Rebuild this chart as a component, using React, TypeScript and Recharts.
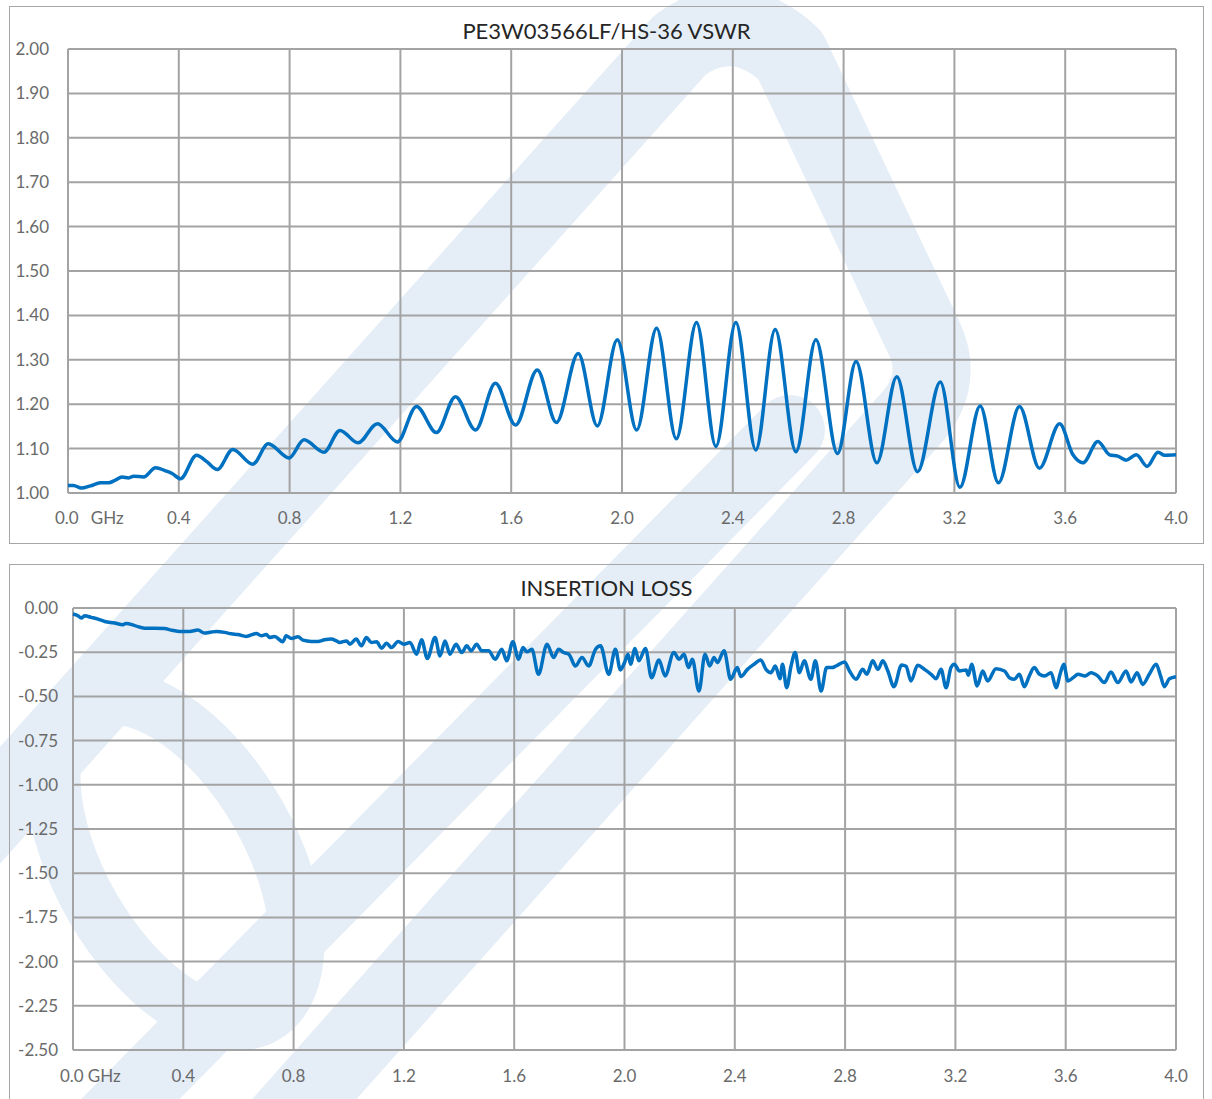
import { LineChart, Line, XAxis, YAxis, CartesianGrid } from 'recharts';

// VSWR trace (GHz / ratio) at peaks and troughs
const vswrFreq = [
    0.0, 0.02, 0.048, 0.081, 0.117, 0.147, 0.171, 0.195, 0.219, 0.237, 0.273, 0.316, 0.352, 0.376,
    0.406, 0.464, 0.502, 0.539, 0.595, 0.667, 0.723, 0.798, 0.852, 0.924, 0.982, 1.047, 1.117, 1.189,
    1.258, 1.33, 1.399, 1.471, 1.543, 1.616, 1.694, 1.763, 1.842, 1.911, 1.983, 2.053, 2.125, 2.196,
    2.269, 2.339, 2.411, 2.483, 2.553, 2.628, 2.7, 2.778, 2.845, 2.92, 2.992, 3.067, 3.149, 3.22,
    3.293, 3.359, 3.435, 3.507, 3.58, 3.628, 3.664, 3.718, 3.76, 3.79, 3.82, 3.857, 3.896, 3.935,
    3.959, 4.0,
];
const vswrValue = [
    1.017, 1.017, 1.011, 1.016, 1.023, 1.023, 1.029, 1.036, 1.034, 1.038, 1.036, 1.057, 1.05, 1.044,
    1.032, 1.085, 1.07, 1.053, 1.098, 1.065, 1.111, 1.079, 1.12, 1.092, 1.141, 1.113, 1.156, 1.115,
    1.195, 1.136, 1.217, 1.142, 1.247, 1.153, 1.277, 1.159, 1.314, 1.151, 1.345, 1.142, 1.371, 1.122,
    1.384, 1.105, 1.384, 1.097, 1.368, 1.093, 1.345, 1.089, 1.296, 1.068, 1.262, 1.048, 1.25, 1.013,
    1.196, 1.023, 1.195, 1.056, 1.156, 1.086, 1.068, 1.116, 1.086, 1.083, 1.074, 1.086, 1.06, 1.092,
    1.085, 1.086,
];

// insertion loss trace (GHz / dB)
const lossFreq = [
    0.0, 0.018, 0.03, 0.042, 0.066, 0.091, 0.115, 0.151, 0.181, 0.193, 0.224, 0.26, 0.296, 0.332,
    0.356, 0.393, 0.423, 0.453, 0.477, 0.502, 0.52, 0.55, 0.574, 0.598, 0.628, 0.665, 0.683, 0.701,
    0.713, 0.731, 0.761, 0.773, 0.792, 0.816, 0.834, 0.864, 0.888, 0.912, 0.937, 0.955, 0.967, 0.992,
    1.004, 1.027, 1.046, 1.064, 1.082, 1.101, 1.119, 1.137, 1.155, 1.179, 1.2, 1.222, 1.246, 1.264,
    1.285, 1.313, 1.331, 1.349, 1.367, 1.389, 1.41, 1.428, 1.444, 1.464, 1.482, 1.507, 1.531, 1.555,
    1.573, 1.595, 1.616, 1.632, 1.646, 1.664, 1.688, 1.719, 1.743, 1.761, 1.779, 1.798, 1.822, 1.846,
    1.87, 1.895, 1.913, 1.943, 1.967, 1.985, 2.0, 2.013, 2.022, 2.038, 2.052, 2.076, 2.098, 2.125,
    2.147, 2.179, 2.198, 2.216, 2.232, 2.246, 2.27, 2.292, 2.309, 2.325, 2.337, 2.361, 2.385, 2.409,
    2.422, 2.446, 2.47, 2.494, 2.513, 2.531, 2.547, 2.564, 2.573, 2.588, 2.604, 2.619, 2.634, 2.652,
    2.676, 2.692, 2.713, 2.733, 2.753, 2.767, 2.798, 2.816, 2.84, 2.864, 2.879, 2.9, 2.919, 2.937,
    2.955, 2.977, 3.005, 3.021, 3.039, 3.063, 3.088, 3.112, 3.13, 3.148, 3.166, 3.184, 3.196, 3.215,
    3.239, 3.247, 3.259, 3.279, 3.299, 3.317, 3.347, 3.378, 3.396, 3.414, 3.432, 3.45, 3.468, 3.486,
    3.505, 3.523, 3.547, 3.565, 3.581, 3.593, 3.608, 3.627, 3.645, 3.67, 3.692, 3.716, 3.74, 3.764,
    3.789, 3.819, 3.837, 3.859, 3.879, 3.903, 3.928, 3.944, 3.958, 3.976, 4.0,
];
const lossValue = [
    -0.034, -0.044, -0.057, -0.044, -0.053, -0.063, -0.076, -0.085, -0.095, -0.087, -0.1, -0.114,
    -0.114, -0.116, -0.125, -0.133, -0.133, -0.125, -0.142, -0.136, -0.133, -0.138, -0.146, -0.15,
    -0.161, -0.144, -0.157, -0.15, -0.167, -0.161, -0.191, -0.157, -0.172, -0.163, -0.182, -0.189,
    -0.189, -0.18, -0.176, -0.186, -0.195, -0.186, -0.205, -0.176, -0.214, -0.167, -0.195, -0.191,
    -0.227, -0.199, -0.224, -0.189, -0.205, -0.195, -0.261, -0.18, -0.286, -0.167, -0.271, -0.186,
    -0.261, -0.205, -0.252, -0.214, -0.242, -0.205, -0.242, -0.242, -0.29, -0.233, -0.299, -0.191,
    -0.29, -0.224, -0.248, -0.233, -0.375, -0.205, -0.28, -0.233, -0.252, -0.261, -0.328, -0.28,
    -0.328, -0.233, -0.214, -0.375, -0.233, -0.35, -0.309, -0.261, -0.318, -0.229, -0.299, -0.229,
    -0.394, -0.294, -0.384, -0.252, -0.29, -0.261, -0.337, -0.29, -0.47, -0.261, -0.328, -0.28,
    -0.309, -0.242, -0.403, -0.337, -0.388, -0.347, -0.318, -0.294, -0.347, -0.366, -0.328, -0.4,
    -0.318, -0.451, -0.328, -0.252, -0.366, -0.299, -0.403, -0.299, -0.47, -0.337, -0.337, -0.328,
    -0.305, -0.356, -0.403, -0.347, -0.375, -0.299, -0.347, -0.299, -0.356, -0.445, -0.322, -0.33,
    -0.413, -0.324, -0.347, -0.375, -0.4, -0.347, -0.451, -0.337, -0.318, -0.356, -0.35, -0.38,
    -0.318, -0.441, -0.356, -0.413, -0.343, -0.356, -0.394, -0.403, -0.375, -0.445, -0.384, -0.337,
    -0.375, -0.384, -0.366, -0.451, -0.366, -0.318, -0.413, -0.394, -0.375, -0.384, -0.366, -0.384,
    -0.422, -0.362, -0.422, -0.356, -0.418, -0.366, -0.432, -0.375, -0.318, -0.384, -0.445, -0.4,
    -0.389,
];

const freqTicks = [0, 0.4, 0.8, 1.2, 1.6, 2.0, 2.4, 2.8, 3.2, 3.6, 4.0];
const vswrTicks = [1.0, 1.1, 1.2, 1.3, 1.4, 1.5, 1.6, 1.7, 1.8, 1.9, 2.0];
const lossTicks = [0, -0.25, -0.5, -0.75, -1.0, -1.25, -1.5, -1.75, -2.0, -2.25, -2.5];

const vswrData = vswrFreq.map((f, i) => ({ f, v: vswrValue[i] }));
const lossData = lossFreq.map((f, i) => ({ f, v: lossValue[i] }));

const FONT = 'Lato, "Open Sans", sans-serif';
const TICK_COLOR = '#6a6a6a';
const GRID = '#a3a3a3';
const LINE = '#0070c0';
const MARK = '#e5eef7';

function FreqTick({ x, y, payload, gap }: { x?: number; y?: number; payload?: { value: number }; gap: number }) {
    const v = payload?.value ?? 0;
    if (v === 0) {
        return (
            <text x={(x ?? 0) - 13} y={y} dy={6} fill={TICK_COLOR} fontSize={17} fontFamily={FONT} textAnchor="start">
                {'0.0'}
                <tspan dx={gap}>GHz</tspan>
            </text>
        );
    }
    return (
        <text x={x} y={y} dy={6} fill={TICK_COLOR} fontSize={17} fontFamily={FONT} textAnchor="middle">
            {v.toFixed(1)}
        </text>
    );
}

// faint company logo behind both charts
function Watermark() {
    return (
        <svg width={1212} height={1099} style={{ position: 'absolute', left: 0, top: 0 }}>
            <g fill="none" stroke={MARK} strokeLinejoin="round" strokeLinecap="round">
                <path d="M -40 850 L 680 45 Q 735 5 790 55 L 925 340 Q 945 385 905 425 L 250 1160" strokeWidth={78} />
                <path d="M 90 1140 L 790 430" strokeWidth={70} />
                <ellipse cx={175} cy={860} rx={95} ry={180} transform="rotate(-30 175 860)" strokeWidth={55} />
            </g>
        </svg>
    );
}

const boxStyle: React.CSSProperties = {
    position: 'absolute',
    left: 9,
    width: 1195,
    border: '1.5px solid #a6a6a6',
    boxSizing: 'border-box',
    background: 'transparent',
};

const titleStyle: React.CSSProperties = {
    position: 'absolute',
    left: 0,
    width: '100%',
    textAlign: 'center',
    fontFamily: FONT,
    fontSize: 22,
    color: '#262626',
};

export default function App() {
    return (
        <div style={{ position: 'absolute', left: 0, top: 0, width: 1212, height: 1099, overflow: 'hidden', background: '#fff' }}>
            <Watermark />
            <div style={{ ...boxStyle, top: 6, height: 538 }}>
                <div style={{ ...titleStyle, top: 10 }}>PE3W03566LF/HS-36 VSWR</div>
                <LineChart
                    width={1195}
                    height={537}
                    data={vswrData}
                    margin={{ top: 43, right: 28, bottom: 20, left: 8 }}
                    style={{ position: 'absolute', left: -1.5, top: -1.5 }}
                >
                    <CartesianGrid stroke={GRID} strokeWidth={2} />
                    <XAxis
                        type="number"
                        dataKey="f"
                        domain={[0, 4]}
                        ticks={freqTicks}
                        axisLine={false}
                        tickLine={false}
                        tickSize={0}
                        tickMargin={25}
                        height={30}
                        interval={0}
                        tick={(p: any) => <FreqTick {...p} gap={12} />}
                    />
                    <YAxis
                        type="number"
                        domain={[1, 2]}
                        ticks={vswrTicks}
                        axisLine={false}
                        tickLine={false}
                        tickSize={0}
                        tickMargin={19}
                        width={51}
                        interval={0}
                        tickFormatter={(v: number) => v.toFixed(2)}
                        tick={{ fontSize: 17, fill: TICK_COLOR, fontFamily: FONT }}
                    />
                    <Line
                        type="monotone"
                        dataKey="v"
                        stroke={LINE}
                        strokeWidth={3.5}
                        dot={false}
                        isAnimationActive={false}
                    />
                </LineChart>
            </div>

            <div style={{ ...boxStyle, top: 564, height: 560 }}>
                <div style={{ ...titleStyle, top: 9 }}>INSERTION LOSS</div>
                <LineChart
                    width={1195}
                    height={560}
                    data={lossData}
                    margin={{ top: 44, right: 28, bottom: 44, left: 12 }}
                    style={{ position: 'absolute', left: -1.5, top: -1.5 }}
                >
                    <CartesianGrid stroke={GRID} strokeWidth={2} />
                    <XAxis
                        type="number"
                        dataKey="f"
                        domain={[0, 4]}
                        ticks={freqTicks}
                        axisLine={false}
                        tickLine={false}
                        tickSize={0}
                        tickMargin={26}
                        height={30}
                        interval={0}
                        tick={(p: any) => <FreqTick {...p} gap={4} />}
                    />
                    <YAxis
                        type="number"
                        domain={[-2.5, 0]}
                        ticks={lossTicks}
                        axisLine={false}
                        tickLine={false}
                        tickSize={0}
                        tickMargin={15}
                        width={52}
                        interval={0}
                        tickFormatter={(v: number) => v.toFixed(2)}
                        tick={{ fontSize: 17, fill: TICK_COLOR, fontFamily: FONT }}
                    />
                    <Line
                        type="monotone"
                        dataKey="v"
                        stroke={LINE}
                        strokeWidth={3.5}
                        dot={false}
                        isAnimationActive={false}
                    />
                </LineChart>
            </div>
        </div>
    );
}
